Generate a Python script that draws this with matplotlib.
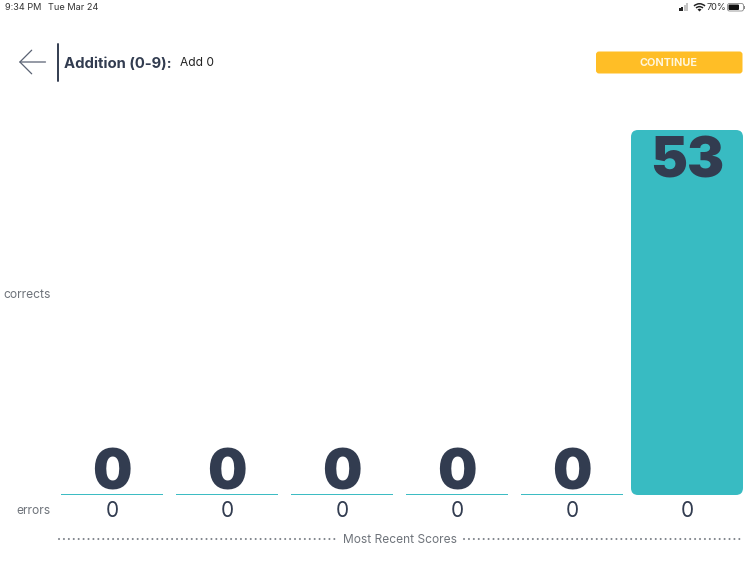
import matplotlib
matplotlib.use("Agg")
import matplotlib.pyplot as plt
from matplotlib.patches import FancyBboxPatch, Rectangle, Wedge, FancyArrowPatch

plt.rcParams['font.family'] = ['Inter', 'DejaVu Sans']

sessions = [1, 2, 3, 4, 5, 6]
corrects = [0, 0, 0, 0, 0, 53]
errors = [0, 0, 0, 0, 0, 0]
status_left = "9:34 PM"
status_date = "Tue Mar 24"
battery = "70%"
title = "Addition (0-9):"
subtitle = "Add 0"
button = "CONTINUE"
y_top_label = "corrects"
y_bottom_label = "errors"
x_label = "Most Recent Scores"

TEAL = "#38BBC2"
NAVY = "#323C50"
GREY = "#6F747B"
YELLOW = "#FFBE26"

W, H = 750, 562
fig = plt.figure(figsize=(W / 100, H / 100), dpi=100, facecolor="white")

# pixel-space overlay for the app chrome
ui = fig.add_axes([0, 0, 1, 1])
ui.set_xlim(0, W)
ui.set_ylim(H, 0)
ui.axis("off")

# plotting axes: 6 bands of 115 px, baseline at y=495, 53 at y=130
left = 54.5
right = 744.5
base = 495
top = 130
ax = fig.add_axes([left / W, 1 - base / H, (right - left) / W, (base - top) / H])
ax.patch.set_alpha(0)
ax.set_xlim(0.5, 6.5)
ax.set_ylim(0, 53)
ax.axis("off")

px_y = 53 / (base - top)
px_x = 6 / (right - left)
for s, c in zip(sessions, corrects):
    if c > 0:
        w = 112 * px_x
        bars = ax.bar(s, c, width=w, color=TEAL, linewidth=0)
        r = 7
        clip = FancyBboxPatch((s - w / 2, 0), w, c,
                              boxstyle=f"round,pad=0,rounding_size={r * px_x}",
                              mutation_aspect=px_y / px_x,
                              transform=ax.transData, facecolor="none", edgecolor="none")
        ax.add_patch(clip)
        bars[0].set_clip_path(clip)
        ax.text(s, c - 48 * px_y, str(c), ha="center", va="baseline", fontsize=40,
                fontweight="black", color=NAVY)
    else:
        w = 102 * px_x
        ax.bar(s, c, width=w, color=TEAL, edgecolor=TEAL, linewidth=1.4)
        ax.text(s, 5 * px_y, str(c), ha="center", va="baseline", fontsize=40,
                fontweight="black", color=NAVY, clip_on=False)

for s, e in zip(sessions, errors):
    ax.text(s, -22 * px_y, str(e), ha="center", va="baseline", fontsize=15,
            color=NAVY, clip_on=False)

# axis-like labels
ui.text(27, 295, y_top_label, ha="center", va="center", fontsize=8.7, color=GREY)
ui.text(33.5, 511, y_bottom_label, ha="center", va="center", fontsize=8.7, color=GREY)
ui.text(400, 540, x_label, ha="center", va="center", fontsize=8.6, color=GREY)
dots = dict(color="#7C8188", lw=1.5, linestyle=(0, (0.01, 2.35)), dash_capstyle="round")
ui.plot([58.5, 338], [539, 539], **dots)
ui.plot([464, 743], [539, 539], **dots)

# status bar
ui.text(5, 8, status_left, ha="left", va="center", fontsize=6.6, color="#333333")
ui.text(48, 8, status_date, ha="left", va="center", fontsize=6.6, color="#333333")
ui.text(707, 8, battery, ha="left", va="center", fontsize=6.6, color="#333333")
for i, (h, col) in enumerate(zip([3, 4.5, 6, 8], ["#222222", "#222222", "#C4C4C4", "#C4C4C4"])):
    ui.add_patch(Rectangle((679 + i * 2.4, 11 - h), 1.7, h, color=col, lw=0))
ui.add_patch(Wedge((699.5, 11.5), 8.5, -135, -45, width=1.5, color="#222222", lw=0))
ui.add_patch(Wedge((699.5, 11.5), 5.6, -135, -45, width=1.5, color="#222222", lw=0))
ui.add_patch(Wedge((699.5, 11.5), 2.8, -135, -45, color="#222222", lw=0))
ui.add_patch(FancyBboxPatch((727.5, 3.5), 16, 7.5, boxstyle="round,pad=0,rounding_size=2",
                            facecolor="white", edgecolor="#888888", lw=0.6))
ui.add_patch(FancyBboxPatch((728.5, 4.5), 10.5, 5.5, boxstyle="round,pad=0,rounding_size=1",
                            facecolor="#111111", edgecolor="none"))
ui.add_patch(Rectangle((744.3, 5.8), 1, 3, color="#888888", lw=0))

# header
ui.add_patch(FancyArrowPatch((45.5, 62), (19, 62), arrowstyle="->,head_length=8.5,head_width=8.5",
                             mutation_scale=1, color="#5A6273", lw=0.9, shrinkA=0, shrinkB=0))
ui.plot([57.5, 57.5], [44, 81], color=NAVY, lw=1.4, solid_capstyle="round")
ui.text(64, 63.5, title, ha="left", va="center", fontsize=10.7, fontweight="bold", color=NAVY)
ui.text(180.5, 63.5, subtitle, ha="left", va="center", fontsize=8.6, color="#222222")
ui.add_patch(FancyBboxPatch((596, 51.5), 146.5, 22, boxstyle="round,pad=0,rounding_size=3",
                            facecolor=YELLOW, edgecolor="none"))
ui.text(669, 63, button, ha="center", va="center", fontsize=7.8, fontweight="bold", color="#FFF6DC")

fig.savefig("out.png", dpi=100, facecolor="white")
